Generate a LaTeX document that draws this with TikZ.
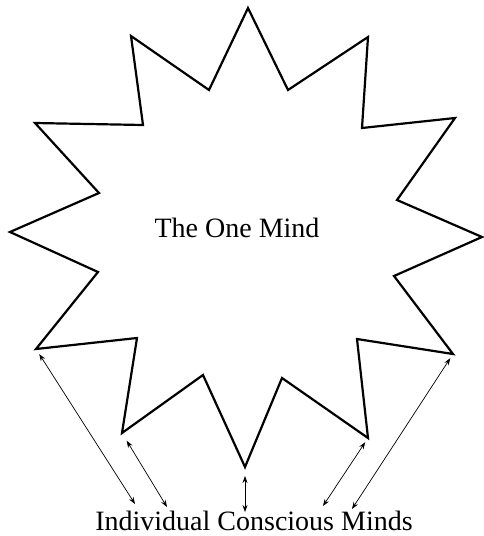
\documentclass[tikz,border=0pt]{standalone}
\usepackage{fontspec}
\setmainfont{Liberation Serif}
\usetikzlibrary{arrows.meta}
\tikzset{
  starline/.style={line width=2.2pt, line join=miter, draw=black},
  mindlabel/.style={font=\fontsize{28}{30}\selectfont, anchor=base, inner sep=0pt},
  linkArc/.style={{Stealth[length=7pt,width=5pt]}-{Stealth[length=7pt,width=5pt]}, line width=0.7pt},
}

\begin{document}
\begin{tikzpicture}[x=1pt, y=-1pt]
  \useasboundingbox (0,0) rectangle (484,536);
  % star points, clockwise from the top
  \coordinate (o1) at (248,8);    \coordinate (i1) at (288,90);
  \coordinate (o2) at (368,37);   \coordinate (i2) at (362,128);
  \coordinate (o3) at (455,118);  \coordinate (i3) at (397,200);
  \coordinate (o4) at (482,237);  \coordinate (i4) at (394,276);
  \coordinate (o5) at (453,354);  \coordinate (i5) at (357,339);
  \coordinate (o6) at (368,438);  \coordinate (i6) at (282,378);
  \coordinate (o7) at (245,467);  \coordinate (i7) at (203,375);
  \coordinate (o8) at (122,433);  \coordinate (i8) at (137,338);
  \coordinate (o9) at (36,349);   \coordinate (i9) at (98,272);
  \coordinate (o10) at (10,232);  \coordinate (i10) at (99,193);
  \coordinate (o11) at (35,123);  \coordinate (i11) at (143,125);
  \coordinate (o12) at (131,36);  \coordinate (i12) at (209,90);
  \draw[starline] (o1) -- (i1) -- (o2) -- (i2) -- (o3) -- (i3) -- (o4) -- (i4)
    -- (o5) -- (i5) -- (o6) -- (i6) -- (o7) -- (i7) -- (o8) -- (i8)
    -- (o9) -- (i9) -- (o10) -- (i10) -- (o11) -- (i11) -- (o12) -- (i12) -- cycle;

  \node[mindlabel] (one) at (237,237) {The One Mind};
  \node[mindlabel] (minds) at (254,530) {Individual Conscious Minds};

  % arrow ends above the bottom label
  \coordinate (m1) at (135,504);
  \coordinate (m2) at (167,507);
  \coordinate (m3) at (245,512);
  \coordinate (m4) at (323,506);
  \coordinate (m5) at (352,509);

  \draw[linkArc, shorten <=6pt] (o9) -- (m1);
  \draw[linkArc, shorten <=9pt] (o8) -- (m2);
  \draw[linkArc, shorten <=9pt] (o7) -- (m3);
  \draw[linkArc, shorten <=5pt] (o6) -- (m4);
  \draw[linkArc, shorten <=5pt] (o5) -- (m5);
\end{tikzpicture}
\end{document}
